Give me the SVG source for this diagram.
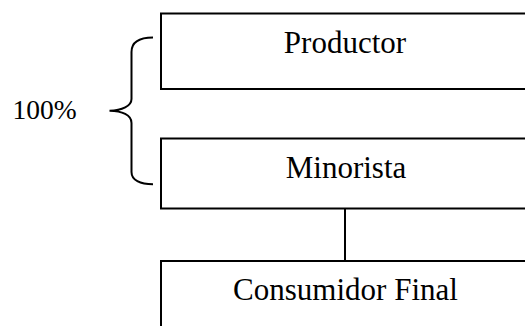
<svg xmlns="http://www.w3.org/2000/svg" width="525" height="326" viewBox="0 0 525 326">
<style>
.box{fill:#fff;stroke:#000;stroke-width:2}
.lbl{font-family:"Liberation Serif","Times New Roman",serif;font-size:31px;fill:#000;text-anchor:middle}
.pct{font-family:"Liberation Serif","Times New Roman",serif;font-size:27.5px;fill:#000}
.ln{fill:none;stroke:#000;stroke-width:2}
</style>
<rect width="525" height="326" fill="#fff"/>
<g id="connectors">
<line class="ln" x1="345" y1="208.5" x2="345" y2="261"/>
</g>
<g id="productor">
<rect class="box" x="161" y="13.5" width="400" height="75.5"/>
<text class="lbl" x="345" y="53">Productor</text>
</g>
<g id="minorista">
<rect class="box" x="161" y="138.5" width="400" height="70"/>
<text class="lbl" x="346" y="177.5">Minorista</text>
</g>
<g id="consumidor">
<rect class="box" x="161" y="261" width="400" height="100"/>
<text class="lbl" x="345.5" y="299.5">Consumidor Final</text>
</g>
<g id="brace">
<path class="ln" d="M153,37.5 C140,37.5 131.5,42 131.5,52 L131.5,99 C131.5,106 122,110.5 109.5,110.8 C122,111 131.5,115 131.5,123 L131.5,172 C131.5,180 140,184.3 153,184.3"/>
<text class="pct" x="12.5" y="119.3">100%</text>
</g>
</svg>
